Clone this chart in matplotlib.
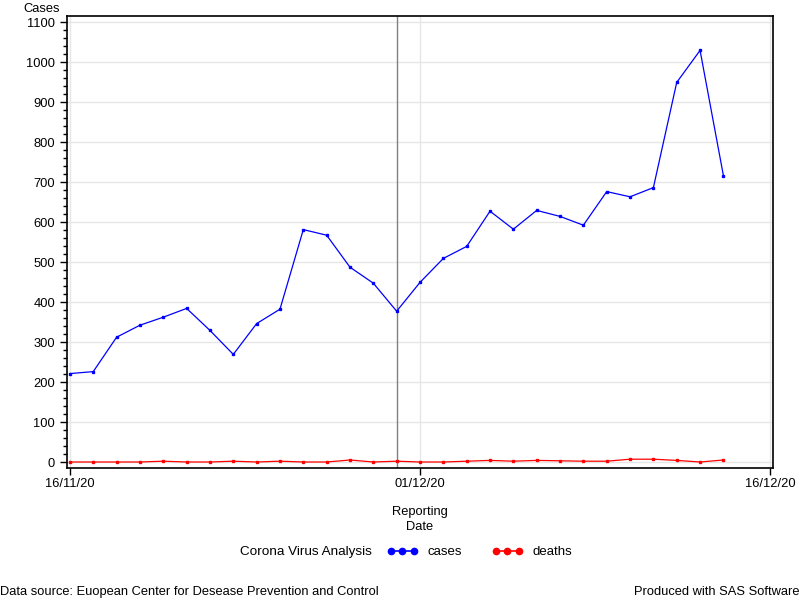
import numpy as np
import pandas as pd
import matplotlib
matplotlib.use('Agg')
import matplotlib.pyplot as plt
import matplotlib.dates as mdates
from matplotlib.lines import Line2D
from matplotlib.ticker import MultipleLocator

plt.rcParams['font.family'] = ['Liberation Sans', 'DejaVu Sans']

# daily reports 16/11/20 .. 14/12/20
dates = pd.date_range('2020-11-16', '2020-12-14', freq='D')
cases = [221, 226, 312, 342, 362, 384, 329, 269, 346, 382,
         581, 567, 487, 447, 377, 449, 509, 539, 627, 582,
         629, 614, 592, 676, 663, 686, 949, 1029, 716]
deaths = [0, 0, 0, 0, 2, 0, 0, 2, 0, 2,
          0, 0, 5, 0, 2, 0, 0, 2, 4, 2,
          4, 3, 2, 2, 7, 7, 4, 0, 5]
x_ticks = pd.to_datetime(['2020-11-16', '2020-12-01', '2020-12-16'])
ref_date = pd.Timestamp('2020-11-30')

fig = plt.figure(figsize=(8, 6), dpi=100)
ax = fig.add_axes([0.08375, 0.22, 0.8825, 0.75333])

ax.plot(dates, cases, color='#0000ff', lw=0.9, marker='s', ms=1.8, zorder=3)
ax.plot(dates, deaths, color='#ff0000', lw=0.9, marker='s', ms=1.8, zorder=3)
ax.axvline(ref_date, color='#808080', lw=1, zorder=2)

ax.set_xlim(x_ticks[0] - pd.Timedelta(hours=3), x_ticks[-1] + pd.Timedelta(hours=3))
ax.set_ylim(-15, 1115)
ax.set_xticks(x_ticks)
ax.xaxis.set_major_formatter(mdates.DateFormatter('%d/%m/%y'))
ax.yaxis.set_major_locator(MultipleLocator(100))
ax.yaxis.set_minor_locator(MultipleLocator(20))

ax.grid(True, which='major', color='#e6e6e6', lw=1, zorder=0)
ax.set_axisbelow(True)
for s in ax.spines.values():
    s.set_linewidth(1.2)
    s.set_color('black')

ax.tick_params(axis='both', which='major', labelsize=9.3, length=5, width=1, colors='black')
ax.tick_params(axis='y', which='minor', length=3, width=1)
ax.tick_params(axis='x', pad=2)

ax.set_xlabel('Reporting\nDate', fontsize=9.3, labelpad=12, linespacing=1.3)
fig.text(0.075, 0.985, 'Cases', ha='right', va='center', fontsize=9.3)

# legend row
fig.text(0.465, 0.08, 'Corona Virus Analysis', ha='right', va='center', fontsize=9.7)
handles = [Line2D([], [], color='#0000ff', marker='o', ms=4.5, lw=1.2),
           Line2D([], [], color='#ff0000', marker='o', ms=4.5, lw=1.2)]
fig.legend(handles, ['cases', 'deaths'], loc='center left', bbox_to_anchor=(0.484, 0.08),
           ncol=2, frameon=False, numpoints=3, handlelength=2.3, handletextpad=0.75,
           columnspacing=2.3, fontsize=9.5, borderpad=0, borderaxespad=0)

fig.text(0.0, 0.0133, 'Data source: Euopean Center for Desease Prevention and Control',
         ha='left', va='center', fontsize=9.3)
fig.text(0.999, 0.0133, 'Produced with SAS Software', ha='right', va='center', fontsize=9.3)

fig.savefig('out.png', dpi=100)
